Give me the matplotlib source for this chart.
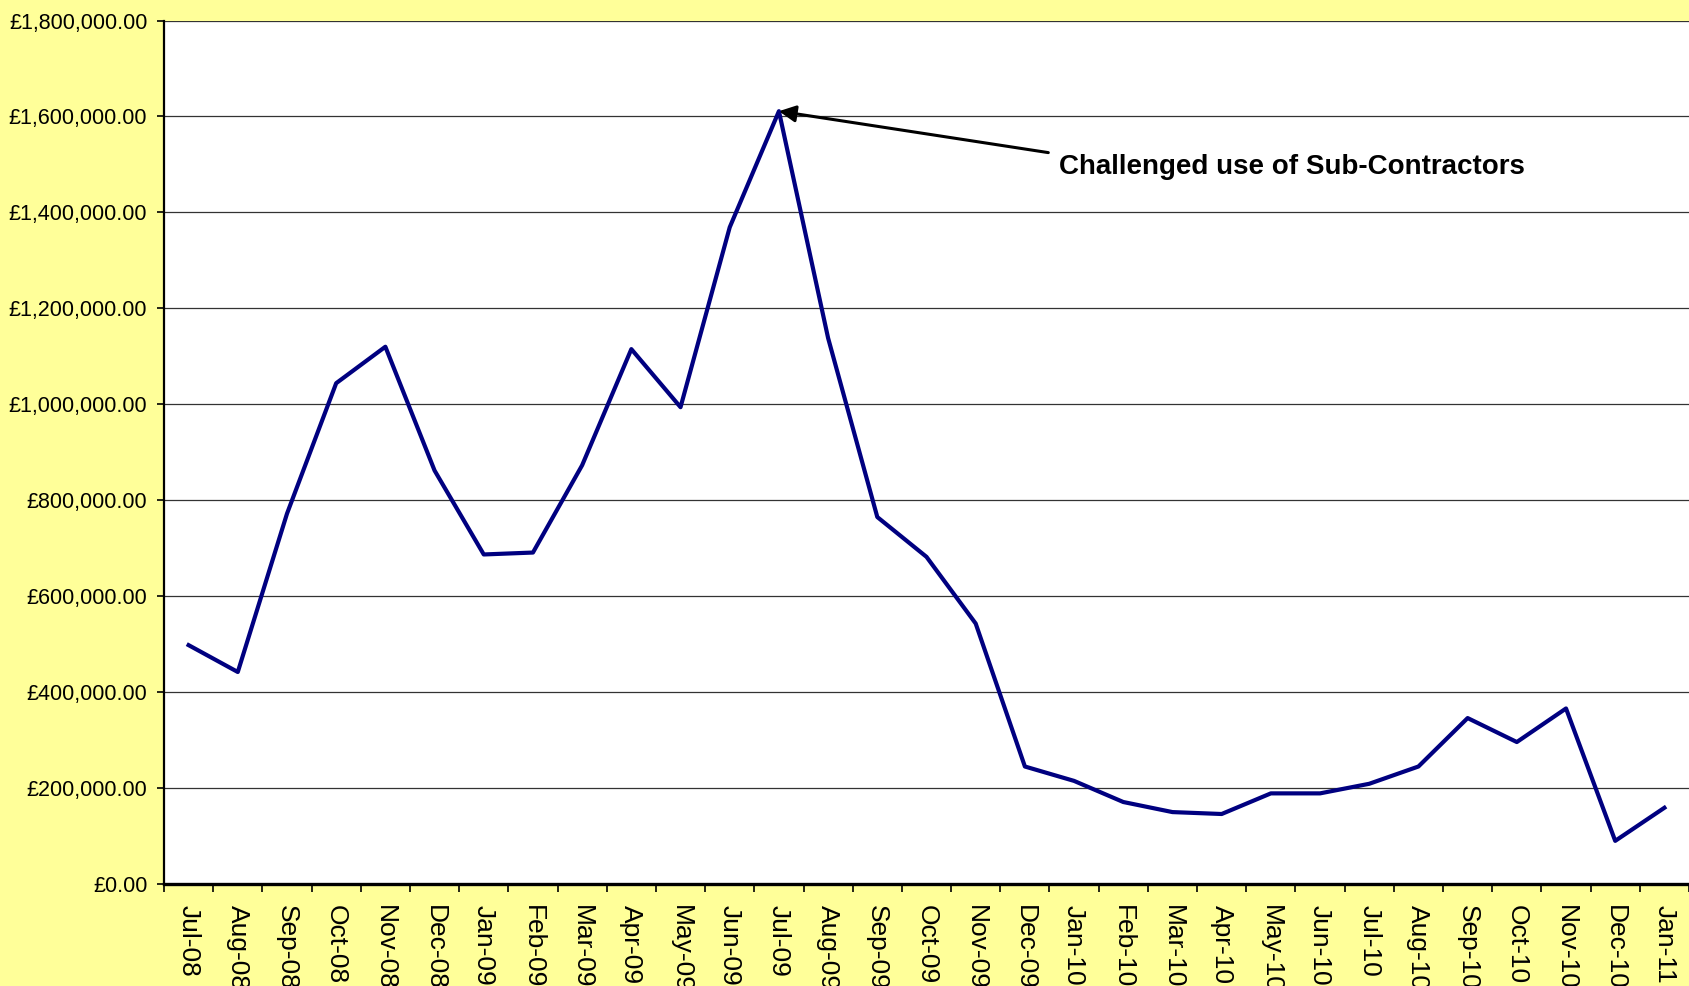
import numpy as np
import matplotlib.pyplot as plt
from matplotlib.ticker import FuncFormatter

plt.rcParams['font.family'] = ['Liberation Sans', 'DejaVu Sans']

months = ['Jul-08', 'Aug-08', 'Sep-08', 'Oct-08', 'Nov-08', 'Dec-08',
          'Jan-09', 'Feb-09', 'Mar-09', 'Apr-09', 'May-09', 'Jun-09',
          'Jul-09', 'Aug-09', 'Sep-09', 'Oct-09', 'Nov-09', 'Dec-09',
          'Jan-10', 'Feb-10', 'Mar-10', 'Apr-10', 'May-10', 'Jun-10',
          'Jul-10', 'Aug-10', 'Sep-10', 'Oct-10', 'Nov-10', 'Dec-10', 'Jan-11']
spend = [498000, 442000, 772000, 1044000, 1120000, 862000,
         687000, 691000, 873000, 1115000, 994000, 1369000,
         1611000, 1138000, 765000, 682000, 543000, 245000,
         215000, 171000, 150000, 146000, 189000, 189000,
         209000, 245000, 346000, 296000, 366000, 90000, 159000]
note = 'Challenged use of Sub-Contractors'
peak_idx = 12

fig = plt.figure(figsize=(16.89, 9.86), dpi=100, facecolor='#FFFF99')
ax = fig.add_axes([0.0971, 0.1034, 0.9029, 0.8758])
ax.set_facecolor('white')

x = np.arange(len(months))
ax.plot(x, spend, color='#000080', lw=3.0, zorder=3)

ax.set_xlim(-0.5, len(months) - 0.5)
ax.set_ylim(0, 1800000)
ax.set_yticks(np.arange(0, 1800001, 200000))
ax.yaxis.set_major_formatter(FuncFormatter(lambda v, p: '£{:,.2f}'.format(v)))
ax.grid(axis='y', color='#333333', lw=0.9, zorder=1)

# category labels at centres, tick marks at boundaries (excel style)
ax.set_xticks(x)
ax.set_xticklabels(months, rotation=-90, fontsize=19, va='top', ha='center')
ax.set_xticks(np.arange(-0.5, len(months), 1.0), minor=True)
ax.tick_params(axis='x', which='major', length=0, pad=15)
ax.tick_params(axis='x', which='minor', length=6, width=1.2, direction='out')
ax.tick_params(axis='y', length=5, width=1.2, labelsize=15.5, pad=7)

for s in ['top', 'right']:
    ax.spines[s].set_visible(False)
ax.spines['left'].set_linewidth(1.6)
ax.spines['bottom'].set_linewidth(2.4)

ax.annotate(note, xy=(peak_idx, spend[peak_idx]), xytext=(17.7, 1494000),
            fontsize=20, fontweight='bold', ha='left', va='center',
            family=['Liberation Sans Narrow', 'Liberation Sans'],
            arrowprops=dict(arrowstyle='-|>,head_length=0.5,head_width=0.25',
                            color='black', lw=2.2, relpos=(0, 1),
                            shrinkA=6, shrinkB=0))

fig.savefig('out.png', dpi=100, facecolor=fig.get_facecolor())
